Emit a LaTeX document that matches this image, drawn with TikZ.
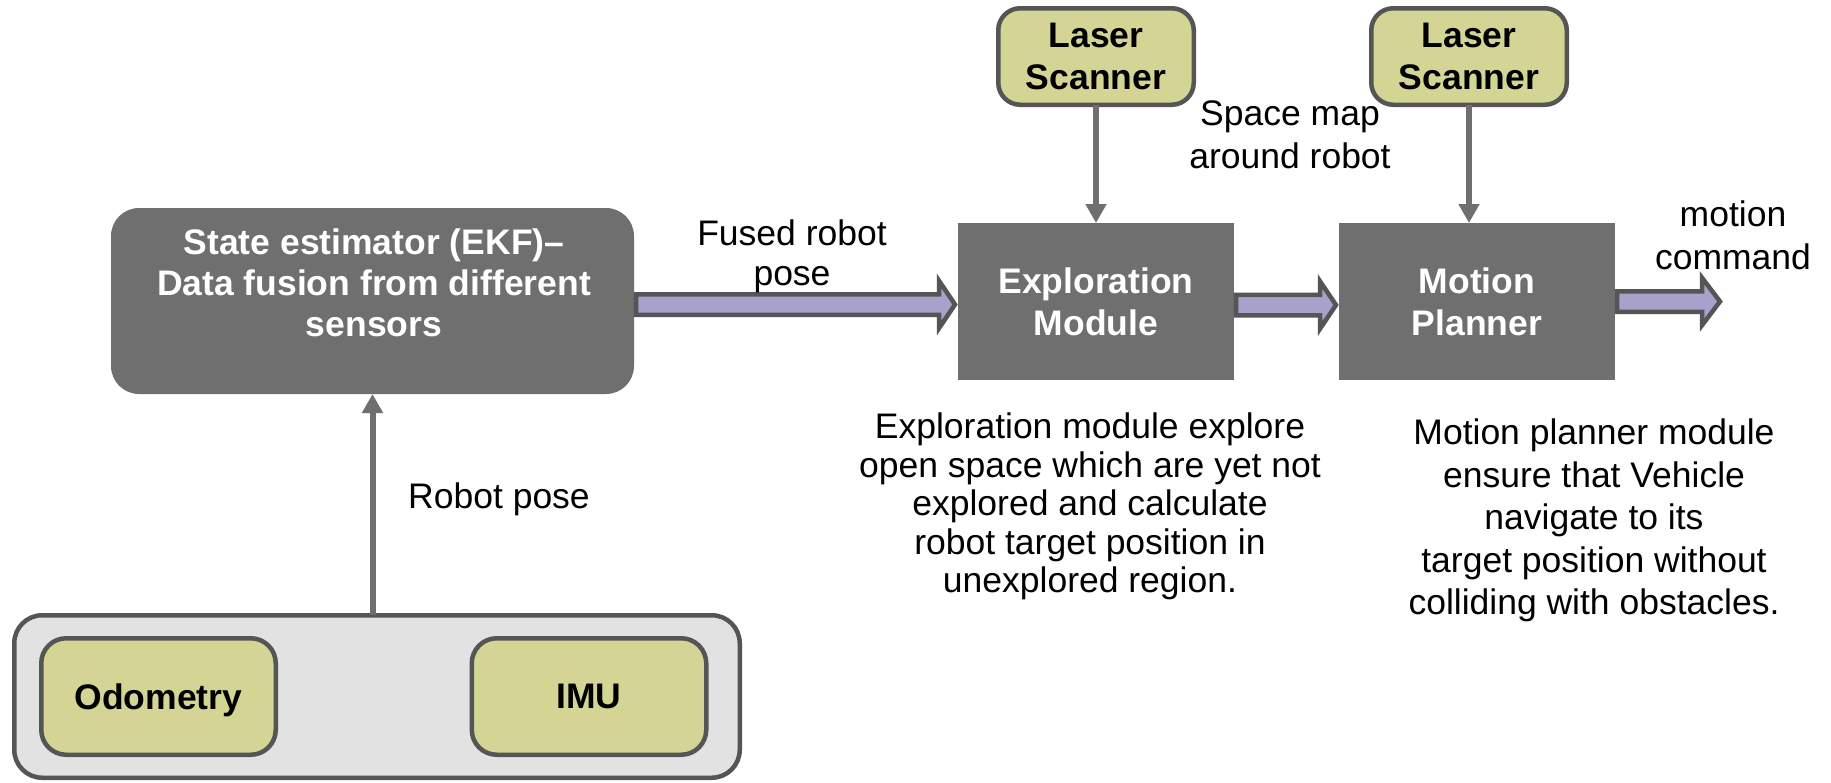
\documentclass[tikz,border=0pt]{standalone}
\usepackage{fontspec}
\setmainfont{Liberation Sans}
\usetikzlibrary{arrows.meta,calc}
\definecolor{boxgray}{RGB}{111,111,111}
\definecolor{olivefill}{RGB}{212,213,148}
\definecolor{edgegray}{RGB}{85,85,85}
\definecolor{panelfill}{RGB}{226,226,226}
\definecolor{lilac}{RGB}{168,161,203}
\newcommand\fatarrow[5]{%
  \draw[fat] let \p1=#1, \p2=#2 in
    (\x1,{\y1+#3pt}) -- ({\x2-#5pt},{\y1+#3pt}) -- ({\x2-#5pt},{\y1+#4pt})
    -- (\x2,\y1) -- ({\x2-#5pt},{\y1-#4pt}) -- ({\x2-#5pt},{\y1-#3pt})
    -- (\x1,{\y1-#3pt}) -- cycle;}
\begin{document}
\begin{tikzpicture}[x=1pt,y=-1pt,
  every node/.style={inner sep=0pt, outer sep=0pt, align=center},
  txt/.style={font=\fontsize{35.5}{41}\selectfont},
  darkbox/.style={fill=boxgray, text=white, font=\bfseries\fontsize{35.5}{42}\selectfont},
  sensorbox/.style={draw=edgegray, line width=4.5pt, fill=olivefill, font=\bfseries\fontsize{35.5}{42}\selectfont},
  feed/.style={draw=boxgray, line width=6pt, -{Triangle[length=19pt,width=20pt]}},
  fat/.style={draw=edgegray, fill=lilac, line width=4.5pt, line join=miter},
]
\useasboundingbox (0,0) rectangle (1831,782);
\fill[white] (0,0) rectangle (1831,782);

% sensors panel
\node[draw=edgegray, line width=4.5pt, fill=panelfill, rounded corners=28pt,
      minimum width=725.5pt, minimum height=162.5pt] (sensors) at (377,696.5) {};
\node[sensorbox, rounded corners=25pt, minimum width=234.5pt, minimum height=116.5pt, text depth=0pt] (odo) at (158.5,696.5) {Odometry};
\node[sensorbox, rounded corners=25pt, minimum width=234.5pt, minimum height=116.5pt, text depth=0pt] (imu) at (589,696.5) {IMU};

% state estimator
\node[fill=boxgray, rounded corners=28pt, minimum width=523pt, minimum height=186pt] (state) at (372.5,301) {};
\node[darkbox, fill=none, font=\bfseries\fontsize{35.5}{41}\selectfont] (statetxt) at (374,282.5)
  {State estimator (EKF)–\\Data fusion from different\\sensors};

% modules
\node[darkbox, minimum width=276pt, minimum height=157pt] (expl) at (1096,301.5) {Exploration\\Module};
\node[darkbox, minimum width=276pt, minimum height=157pt] (motion) at (1477,301.5) {Motion\\Planner};

% laser scanners
\node[sensorbox, rounded corners=22pt, minimum width=195.5pt, minimum height=96.5pt] (laserA) at (1096,56.5) {Laser\\Scanner};
\node[sensorbox, rounded corners=22pt, minimum width=195.5pt, minimum height=96.5pt] (laserB) at (1469,56.5) {Laser\\Scanner};

% connectors
\draw[feed] (sensors.north -| state.south) -- (state.south);
\draw[feed] (laserA.south) -- (laserA.south |- expl.north);
\draw[feed] (laserB.south) -- (laserB.south |- motion.north);

\coordinate (cmdtip) at (1720,301.5);
\fatarrow{($(state.east)+(2,3.5)$)}{($(expl.west)+(-3,0)$)}{10.25}{23.75}{16}
\fatarrow{($(expl.east)+(2,3.5)$)}{($(motion.west)+(-3,0)$)}{10.25}{23.75}{16}
\fatarrow{($(motion.east)+(2,0)$)}{(cmdtip)}{10.25}{23.75}{18}

% labels
\node[font=\fontsize{35.5}{40}\selectfont] (fused) at (792,256) {Fused robot\\pose};
\node[font=\fontsize{35.5}{43}\selectfont] (spacemap) at (1290,134.5) {Space map\\around robot};
\node[font=\fontsize{35.5}{43}\selectfont] (motioncmd) at (1733,235.5) {motion\\command};
\node[txt, anchor=base] (robotpose) at (499,508) {Robot pose};
\node[font=\fontsize{35.5}{38.5}\selectfont] (expldesc) at (1090,506.5)
  {Exploration module explore\\open space which are yet not\\explored and calculate\\robot target position in\\unexplored region.};
\node[font=\fontsize{35.5}{42.5}\selectfont] (motiondesc) at (1594,520.75)
  {Motion planner module\\ensure that Vehicle\\navigate to its\\target position without\\colliding with obstacles.};
\end{tikzpicture}
\end{document}
